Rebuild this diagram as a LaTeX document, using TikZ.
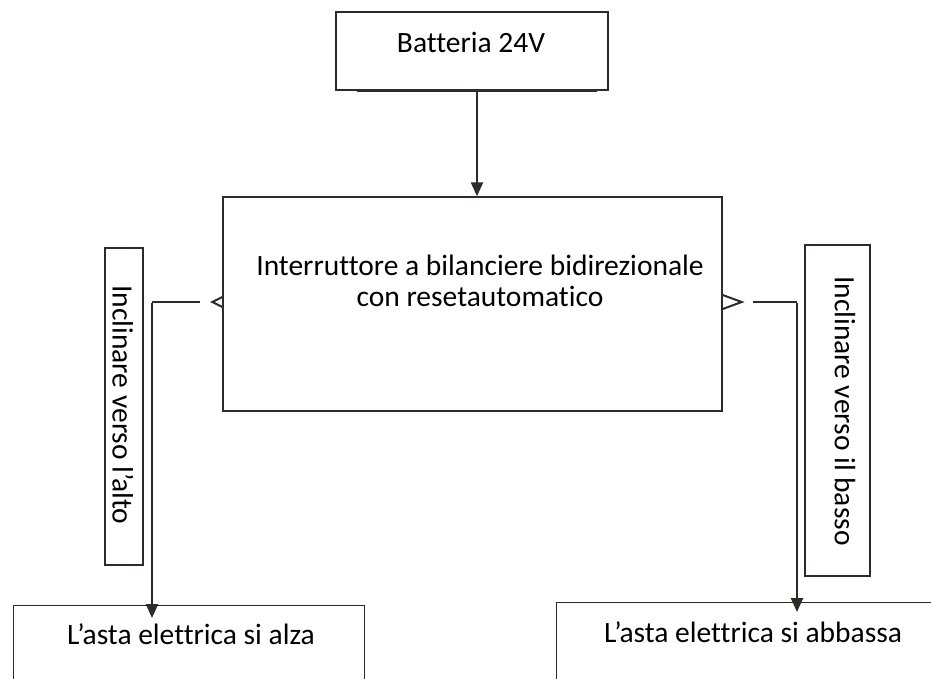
\documentclass[tikz,border=0pt]{standalone}
\usepackage{fontspec}
\setmainfont{Carlito}[Ligatures=NoCommon]
\usetikzlibrary{arrows.meta}
\definecolor{ink}{HTML}{2E2A2A}
\tikzset{
  box/.style={draw=ink, line width=1.4pt, rectangle, inner sep=0pt},
  txt/.style={font=\fontsize{29.5}{31}\selectfont, text=black, inner sep=0pt, align=center},
  conn/.style={draw=ink, line width=2.3pt, -{Triangle[length=14pt,width=12pt]}},
  wire/.style={draw=ink, line width=2.3pt},
  chev/.style={draw=ink, line width=2pt}
}
\begin{document}
\begin{tikzpicture}[x=1pt,y=-1pt]
\useasboundingbox (0,0) rectangle (931,679);
% boxes
\node[box, minimum width=272pt, minimum height=78pt] (bat) at (472,51) {};
\node[txt] (battxt) at (471,42) {Batteria 24V};
\node[box, minimum width=499pt, minimum height=214pt] (main) at (472.5,304) {};
\node[txt] (maintxt) at (480,281) {Interruttore a bilanciere bidirezionale\\con resetautomatico};
\node[box, minimum width=38pt, minimum height=317pt] (lbox) at (124,406.5) {};
\node[txt, rotate=-90] (ltxt) at (123,405) {Inclinare verso l’alto};
\node[box, minimum width=65pt, minimum height=331pt] (rbox) at (837.5,410.5) {};
\node[txt, rotate=-90] (rtxt) at (845,411) {Inclinare verso il basso};
\node[box, minimum width=351pt, minimum height=100pt, anchor=north west] (lout) at (13,605) {};
\node[txt] (louttxt) at (191,634) {L’asta elettrica si alza};
\node[box, minimum width=390pt, minimum height=100pt, anchor=north west] (rout) at (556,602) {};
\node[txt] (routtxt) at (753,632) {L’asta elettrica si abbassa};
% shadow under battery box
\draw[ink, line width=2.8pt] ([xshift=22pt]bat.south west) -- ([xshift=-12pt]bat.south east);
% battery -> switch
\draw[conn] ([xshift=5pt]bat.south) -- ([xshift=5pt]bat.south |- main.north);
% chevrons
\coordinate (lc) at (main.west |- 0,302);
\coordinate (rc) at (main.east |- 0,302);
\draw[chev] ([shift={(0,-5)}]lc) -- ([shift={(-10,0)}]lc) -- ([shift={(0,5)}]lc);
\draw[chev] ([shift={(0,-7)}]rc) -- ([shift={(19,0)}]rc) -- ([shift={(0,7)}]rc);
% left branch
\coordinate (lstart) at ([xshift=-22pt]lc);
\coordinate (lcorner) at (152,302);
\draw[wire] (lstart) -- (lcorner);
\draw[conn] ([yshift=-1.15pt]lcorner) -- ([yshift=-13pt]lcorner |- lout.north);
% right branch
\coordinate (rstart) at ([xshift=30pt]rc);
\coordinate (rcorner) at (797,302);
\draw[wire] (rstart) -- (rcorner);
\draw[conn] ([yshift=-1.15pt]rcorner) -- ([yshift=-10pt]rcorner |- rout.north);
\end{tikzpicture}
\end{document}
